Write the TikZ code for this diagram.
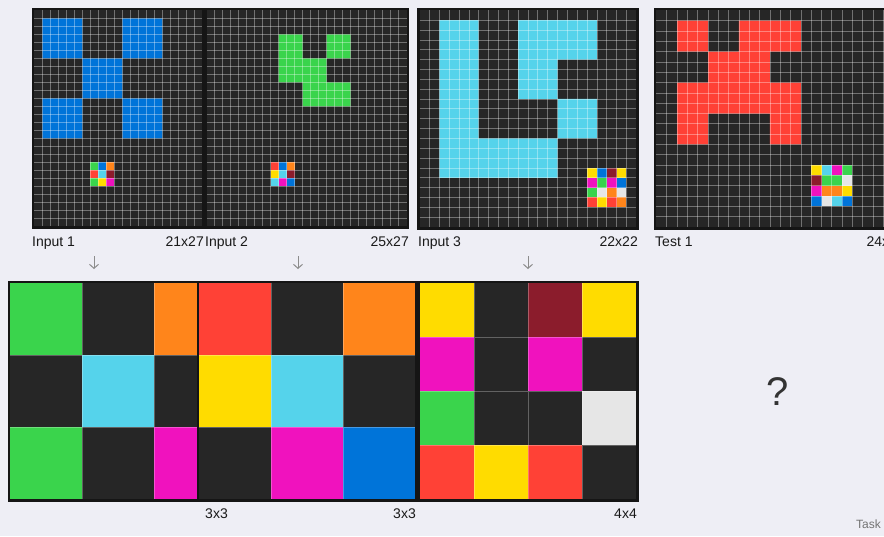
\documentclass[tikz,border=0pt]{standalone}
\usepackage{fontspec}
\setmainfont{Liberation Sans}
\usetikzlibrary{arrows.meta}

\definecolor{bgcol}{HTML}{EEEEF5}
\definecolor{rimcol}{HTML}{151515}
\definecolor{arcK}{HTML}{262626}
\definecolor{arcB}{HTML}{0074D9}
\definecolor{arcR}{HTML}{FF4136}
\definecolor{arcG}{HTML}{3AD44C}
\definecolor{arcY}{HTML}{FFDC00}
\definecolor{arcM}{HTML}{F012BE}
\definecolor{arcO}{HTML}{FF851B}
\definecolor{arcC}{HTML}{55D3EB}
\definecolor{arcN}{HTML}{8B1C2C}
\definecolor{arcW}{HTML}{E6E6E6}

% frame and black ground of one grid (inside a scope in cell units)
\newcommand\gridbase[2]{%
  \draw[rim] (0,0) rectangle (#1,#2);
  \fill[arcK] (0,0) rectangle (#1,#2);
}
% thin lines between cells
\newcommand\gridlines[2]{%
  \pgfmathtruncatemacro\lastcol{#1-1}%
  \pgfmathtruncatemacro\lastrow{#2-1}%
  \foreach \i in {1,...,\lastcol} \draw[gl] (\i,0) -- (\i,#2);
  \foreach \j in {1,...,\lastrow} \draw[gl] (0,\j) -- (#1,\j);
}
% block of coloured cells, given row by row
\newcommand\patch[3]{%
  \foreach \rowlist [count=\r from 0] in {#3}
    \foreach \cl [count=\c from 0] in \rowlist
      \fill[fill=arc\cl] ({#1+\c},{#2+\r}) rectangle ++(1,1);
}

\begin{document}
\begin{tikzpicture}[
  x=1pt, y=-1pt,
  rim/.style={draw=rimcol, line width=5pt},
  gl/.style={draw=white, draw opacity=0.35, line width=0.7pt},
  sep/.style={draw=white, draw opacity=0.28, line width=0.8pt},
  lbl/.style={font=\fontsize{14}{16}\selectfont, text=black!90, inner sep=0pt},
  down/.style={draw=black!45, line width=1pt, -{Straight Barb[length=4pt, width=9pt]}}
]
\useasboundingbox (0,0) rectangle (884,536);
\fill[bgcol] (0,0) rectangle (884,536);
\clip (0,0) rectangle (884,536);

% Input 1
\begin{scope}[shift={(34.3,10.3)}, x=8pt, y=-8pt]
  \gridbase{21}{27}
  \fill[arcB] (1,1) rectangle (6,6) (11,1) rectangle (16,6) (6,6) rectangle (11,11)
    (1,11) rectangle (6,16) (11,11) rectangle (16,16);
  \patch{7}{19}{{G,B,O},{R,C,N},{G,Y,M}}
  \gridlines{21}{27}
\end{scope}

% Input 2
\begin{scope}[shift={(206.7,10.3)}, x=8pt, y=-8pt]
  \gridbase{25}{27}
  \fill[arcG] (9,3) rectangle (12,6) (15,3) rectangle (18,6) (9,6) rectangle (15,9)
    (12,9) rectangle (18,12);
  \patch{8}{19}{{R,B,O},{Y,C,N},{C,M,B}}
  \gridlines{25}{27}
\end{scope}

% Input 3
\begin{scope}[shift={(419.6,10.3)}, x=9.85pt, y=-9.85pt]
  \gridbase{22}{22}
  \fill[arcC] (2,1) rectangle (6,17) (10,1) rectangle (18,5) (10,5) rectangle (14,9)
    (14,9) rectangle (18,13) (2,13) rectangle (14,17);
  \patch{17}{16}{{Y,B,N,Y},{M,G,M,B},{G,W,O,W},{R,Y,R,O}}
  \gridlines{22}{22}
\end{scope}

% Test 1
\begin{scope}[shift={(656.4,10.3)}, x=10.32pt, y=-10.32pt]
  \gridbase{24}{21}
  \fill[arcR] (2,1) rectangle (5,4) (8,1) rectangle (14,4) (5,4) rectangle (11,7)
    (2,7) rectangle (14,10) (2,10) rectangle (5,13) (11,10) rectangle (14,13);
  \patch{15}{15}{{Y,C,M,G},{N,G,G,W},{M,O,O,Y},{B,W,C,B}}
  \gridlines{24}{21}
\end{scope}

% outputs
\begin{scope}[shift={(10,283.3)}, x=72pt, y=-72pt]
  \gridbase{3}{3}
  \patch{0}{0}{{G,K,O},{K,C,K},{G,K,M}}
  \foreach \i in {1,2} \draw[sep] (\i,0) -- (\i,3) (0,\i) -- (3,\i);
\end{scope}
\begin{scope}[shift={(199,283.3)}, x=72pt, y=-72pt]
  \gridbase{3}{3}
  \patch{0}{0}{{R,K,O},{Y,C,K},{K,M,B}}
  \foreach \i in {1,2} \draw[sep] (\i,0) -- (\i,3) (0,\i) -- (3,\i);
\end{scope}
\begin{scope}[shift={(420,283.3)}, x=54pt, y=-54pt]
  \gridbase{4}{4}
  \patch{0}{0}{{Y,K,N,Y},{M,K,M,K},{G,K,K,W},{R,Y,R,K}}
  \foreach \i in {1,2,3} \draw[sep] (\i,0) -- (\i,4) (0,\i) -- (4,\i);
\end{scope}

% labels
\node[lbl, anchor=base west] (in1) at (32,246) {Input 1};
\node[lbl, anchor=base east] (in1size) at (204,246) {21x27};
\node[lbl, anchor=base west] (in2) at (205,246) {Input 2};
\node[lbl, anchor=base east] (in2size) at (409,246) {25x27};
\node[lbl, anchor=base west] (in3) at (418,246) {Input 3};
\node[lbl, anchor=base east] (in3size) at (638,246) {22x22};
\node[lbl, anchor=base west] (test1) at (655,246) {Test 1};
\node[lbl, anchor=base east] (test1size) at (905,246) {24x21};
\node[lbl, anchor=base east] (out1size) at (228,518) {3x3};
\node[lbl, anchor=base east] (out2size) at (416,518) {3x3};
\node[lbl, anchor=base east] (out3size) at (637,518) {4x4};
\node[font=\fontsize{40}{44}\selectfont, text=black!80] (ask) at (778,392) {?};
\node[font=\fontsize{12}{14}\selectfont, text=black!55, anchor=base east, inner sep=0pt] (task) at (881,528) {Task};

% arrows
\coordinate (a1) at (94,256);  \coordinate (b1) at (94,269);
\coordinate (a2) at (298,256); \coordinate (b2) at (298,269);
\coordinate (a3) at (528,256); \coordinate (b3) at (528,269);
\draw[down] (a1) -- (b1);
\draw[down] (a2) -- (b2);
\draw[down] (a3) -- (b3);
\end{tikzpicture}
\end{document}
